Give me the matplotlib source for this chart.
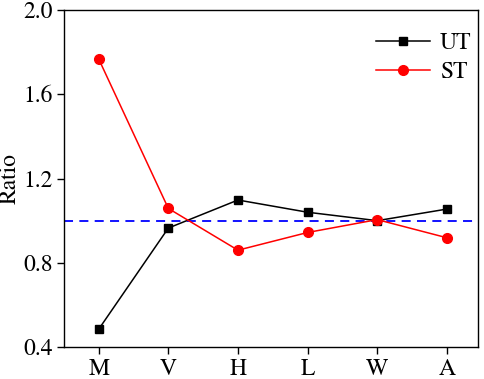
import matplotlib.pyplot as plt

plt.rcParams['font.family'] = ['STIXGeneral', 'DejaVu Serif']
plt.rcParams['mathtext.fontset'] = 'stix'

categories = ['M', 'V', 'H', 'L', 'W', 'A']
ut_values = [0.485, 0.965, 1.098, 1.040, 1.000, 1.055]
st_values = [1.767, 1.058, 0.860, 0.944, 1.005, 0.919]
ref_ratio = 1.0

fig = plt.figure(figsize=(4.84, 3.79), dpi=100)
ax = fig.add_axes([0.132, 0.084, 0.856, 0.89])

x = range(len(categories))
ax.axhline(ref_ratio, color='blue', linestyle=(0, (5, 3.5)), linewidth=1.3, zorder=1)
ax.plot(x, ut_values, color='black', marker='s', markersize=6, linewidth=1.1, label='UT', zorder=3)
ax.plot(x, st_values, color='red', marker='o', markersize=7, linewidth=1.1, label='ST', zorder=4)

ax.set_xlim(-0.5, 5.45)
ax.set_ylim(0.4, 2.0)
ax.set_xticks(list(x))
ax.set_xticklabels(categories)
ax.set_yticks([0.4, 0.8, 1.2, 1.6, 2.0])
ax.set_ylabel('Ratio', fontsize=17)
ax.yaxis.set_label_coords(-0.104, 0.5)
ax.tick_params(labelsize=17, direction='out', length=5, width=1, pad=3)
for s in ax.spines.values():
    s.set_linewidth(1)

ax.legend(loc='upper right', frameon=False, fontsize=17, handlelength=2.3,
          bbox_to_anchor=(1.035, 0.995), labelspacing=0.3, handletextpad=0.4)

fig.savefig('out.png', dpi=100)
